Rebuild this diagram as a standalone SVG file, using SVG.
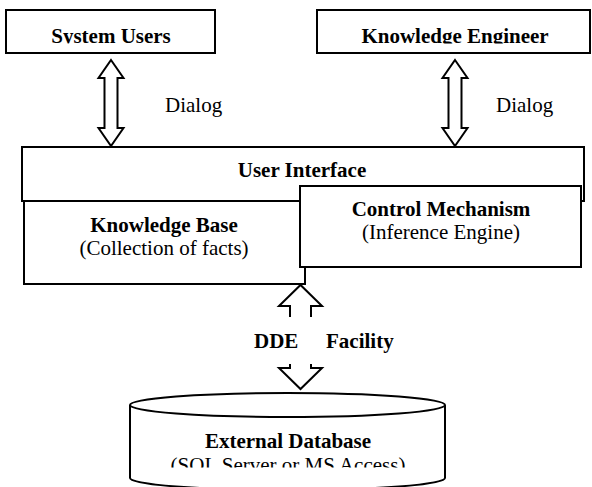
<svg xmlns="http://www.w3.org/2000/svg" width="592" height="487" viewBox="0 0 592 487">
<style>
.box{fill:#fff;stroke:#000;stroke-width:2}
.arr{fill:#fff;stroke:#000;stroke-width:2;stroke-linejoin:miter}
.t{font-family:"Liberation Serif","Times New Roman",serif;font-size:21px;fill:#000}
.b{font-weight:bold}
.c{text-anchor:middle}
</style>
<defs>
<clipPath id="clipTop"><rect x="0" y="0" width="592" height="43.5"/></clipPath>
<clipPath id="clipDb"><rect x="0" y="0" width="592" height="467.5"/></clipPath>
</defs>
<rect width="592" height="487" fill="#fff"/>
<g id="system-users">
<rect class="box" x="6" y="10" width="209" height="43"/>
<text class="t b c" x="111" y="43" clip-path="url(#clipTop)">System Users</text>
</g>
<g id="knowledge-engineer">
<rect class="box" x="317" y="10" width="273" height="43"/>
<text class="t b c" x="455" y="43" clip-path="url(#clipTop)">Knowledge Engineer</text>
</g>
<g id="user-interface">
<rect class="box" x="22" y="147" width="562" height="54"/>
<text class="t b c" x="302" y="177">User Interface</text>
</g>
<g id="knowledge-base">
<rect class="box" x="24" y="201" width="281" height="83"/>
<text class="t b c" x="164" y="232">Knowledge Base</text>
<text class="t c" x="164" y="255">(Collection of facts)</text>
</g>
<g id="control-mechanism">
<rect class="box" x="300" y="186" width="281" height="81"/>
<text class="t b c" x="441" y="216">Control Mechanism</text>
<text class="t c" x="441" y="239">(Inference Engine)</text>
</g>
<g id="external-database">
<path class="box" d="M130,405 L130,478 A157.5,12 0 0 0 445,478 L445,405"/>
<ellipse class="box" cx="287.5" cy="405" rx="157.5" ry="12"/>
<text class="t b c" x="288" y="448">External Database</text>
<text class="t c" x="288" y="472" clip-path="url(#clipDb)">(SQL Server or MS Access)</text>
</g>
<g id="connectors">
<path class="arr" d="M111,60 L123.5,78 L117.5,78 L117.5,128 L123.5,128 L111,146 L98.5,128 L104.5,128 L104.5,78 L98.5,78 Z"/>
<text class="t" x="165" y="112">Dialog</text>
<path class="arr" d="M455,60 L467.5,78 L461.5,78 L461.5,128 L467.5,128 L455,146 L442.5,128 L448.5,128 L448.5,78 L442.5,78 Z"/>
<text class="t" x="496" y="112">Dialog</text>
<path class="arr" d="M290,317 L290,306 L279,306 L300.5,285 L322,306 L311,306 L311,317"/>
<path class="arr" d="M290,364 L290,368 L279,368 L300.5,389 L322,368 L311,368 L311,364"/>
<text class="t b" x="254" y="348">DDE</text>
<text class="t b" x="326" y="348">Facility</text>
</g>
</svg>
